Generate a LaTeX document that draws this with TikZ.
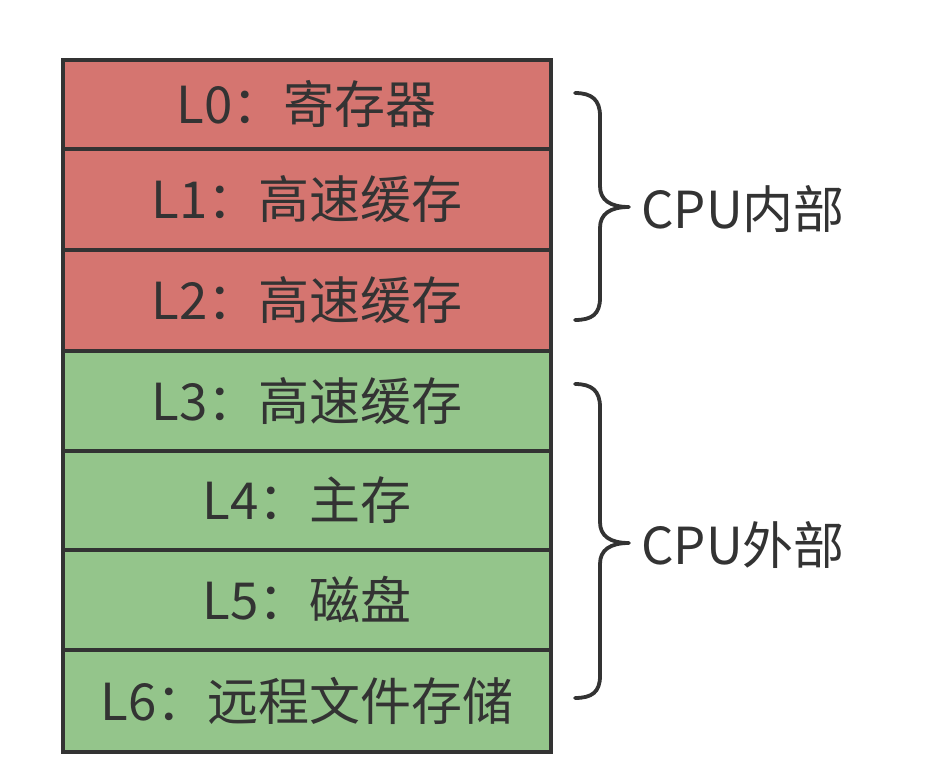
\documentclass[tikz,border=0pt]{standalone}
\usepackage{fontspec}
\setmainfont{Noto Sans CJK SC}
\definecolor{redfill}{RGB}{213,117,112}
\definecolor{greenfill}{RGB}{148,197,139}
\definecolor{edge}{RGB}{51,51,51}
\begin{document}
\begin{tikzpicture}[x=1pt,y=-1pt,
  rowbox/.style={draw=edge,line width=3.8pt,minimum width=488pt,inner sep=0pt,anchor=north west,
    text=edge,font=\fontsize{51}{61}\selectfont},
  redrow/.style={rowbox,fill=redfill},
  greenrow/.style={rowbox,fill=greenfill},
  brace/.style={draw=edge,line width=3.8pt,line cap=round,line join=round},
  lbl/.style={text=edge,font=\fontsize{51}{61}\selectfont,anchor=west,inner sep=0pt}]
\useasboundingbox (0,0) rectangle (938,766);
\node[redrow,minimum height=89pt] (l0) at (61,58) {L0：寄存器};
\node[redrow,minimum height=101pt] (l1) at (61,147) {L1：高速缓存};
\node[redrow,minimum height=101pt] (l2) at (61,248) {L2：高速缓存};
\node[greenrow,minimum height=100pt] (l3) at (61,349) {L3：高速缓存};
\node[greenrow,minimum height=99pt] (l4) at (61,449) {L4：主存};
\node[greenrow,minimum height=100pt] (l5) at (61,548) {L5：磁盘};
\node[greenrow,minimum height=102pt] (l6) at (61,648) {L6：远程文件存储};
% braces
\draw[brace] (575,93) .. controls (592,93) and (600,100) .. (600,116)
  -- (600,186) .. controls (600,200) and (610,207) .. (629,207)
  .. controls (610,207) and (600,214) .. (600,228)
  -- (600,298) .. controls (600,314) and (592,320) .. (575,320);
\draw[brace] (575,384) .. controls (592,384) and (600,391) .. (600,407)
  -- (600,522) .. controls (600,536) and (610,543) .. (629,543)
  .. controls (610,543) and (600,550) .. (600,564)
  -- (600,676) .. controls (600,692) and (592,698) .. (575,698);
\node[lbl] (cpuin) at (641,209) {CPU内部};
\node[lbl] (cpuout) at (641,545) {CPU外部};
\end{tikzpicture}
\end{document}
